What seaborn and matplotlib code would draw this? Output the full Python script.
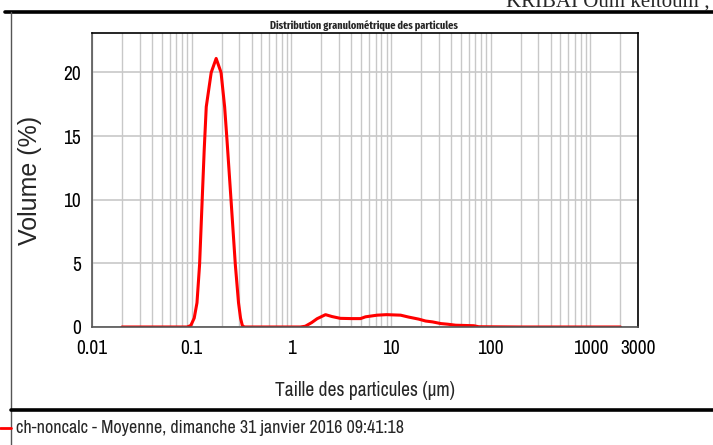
import matplotlib
matplotlib.use("Agg")
import matplotlib.pyplot as plt
import seaborn as sns
import pandas as pd
from matplotlib.lines import Line2D
from matplotlib.ticker import LogLocator, NullFormatter, FixedLocator

# ---- data ----
size_um = [0.02, 0.05, 0.09, 0.098, 0.106, 0.113, 0.120, 0.127, 0.1335, 0.140,
           0.157, 0.176, 0.197, 0.214, 0.226, 0.2495, 0.274, 0.295, 0.309,
           0.322, 0.337, 0.6, 1.0, 1.23, 1.38, 1.6, 1.81, 2.2, 2.56, 3.1,
           4.0, 4.94, 5.54, 7.26, 9.0, 12.46, 15.0, 18.9, 22.2, 26.1,
           31.5, 36.9, 44.5, 55.0, 67.5, 75.7, 200.0, 600.0, 2000.0]
volume_pct = [0.0, 0.0, 0.0, 0.12, 0.7, 1.9, 4.9, 9.7, 13.9, 17.3,
              20.0, 21.1, 20.0, 17.3, 14.7, 9.7, 4.9, 1.9, 0.7,
              0.12, 0.0, 0.0, 0.0, 0.0, 0.06, 0.35, 0.65, 0.97, 0.82, 0.68,
              0.66, 0.66, 0.8, 0.93, 0.97, 0.93, 0.78, 0.62, 0.47, 0.4,
              0.27, 0.22, 0.14, 0.12, 0.1, 0.02, 0.0, 0.0, 0.0]
xticks = [0.01, 0.1, 1, 10, 100, 1000, 3000]
xtick_labels = ["0.01", "0.1", "1", "10", "100", "1000", "3000"]
yticks = [0, 5, 10, 15, 20]
title = "Distribution granulométrique des particules"
xlabel = "Taille des particules (µm)"
ylabel = "Volume (%)"
series_name = "ch-noncalc - Moyenne, dimanche 31 janvier 2016 09:41:18"

df = pd.DataFrame({"size": size_um, "volume": volume_pct})

sns.set_theme(style="white")
NARROW = ["Archivo Narrow", "Liberation Sans", "DejaVu Sans"]
BOLDNARROW = ["Fira Sans Extra Condensed", "Archivo Narrow", "DejaVu Sans"]
plt.rcParams["font.family"] = NARROW

W, H = 713, 445
fig = plt.figure(figsize=(W / 100, H / 100), dpi=100)
fig.patch.set_facecolor("white")

ax = fig.add_axes([92 / W, (H - 327) / H, 546 / W, 294 / H])
sns.lineplot(data=df, x="size", y="volume", ax=ax, color="#ff0000",
             linewidth=2.2, legend=False)
ax.set_xscale("log")
ax.set_xlim(0.01, 3000)
ax.set_ylim(0, 23.1)

# grid
ax.xaxis.set_major_locator(FixedLocator(xticks))
ax.xaxis.set_minor_locator(LogLocator(base=10, subs=range(2, 10), numticks=20))
ax.xaxis.set_minor_formatter(NullFormatter())
ax.set_xticklabels(xtick_labels)
ax.set_yticks(yticks)
ax.grid(True, which="both", axis="x", color="#c8c8c8", linewidth=1.0)
ax.grid(True, which="major", axis="y", color="#c8c8c8", linewidth=1.2)
ax.set_axisbelow(True)
ax.tick_params(axis="both", which="both", length=0, labelsize=14,
               colors="black")
ax.tick_params(axis="y", pad=8)
ax.tick_params(axis="x", pad=9)

for s in ["top", "right"]:
    ax.spines[s].set_color("black")
    ax.spines[s].set_linewidth(1.2)
for s in ["bottom", "left"]:
    ax.spines[s].set_color("#555555")
    ax.spines[s].set_linewidth(1.2)

ax.set_xlabel("")
ax.set_ylabel("")

# axis titles
fig.text(365 / W, 1 - 391 / H, xlabel, ha="center", va="center",
         fontsize=14, family=NARROW)
fig.text(30 / W, 1 - 180 / H, ylabel, ha="center", va="center",
         rotation=90, fontsize=18, family=["Liberation Sans", "DejaVu Sans"])
fig.text(364 / W, 1 - 25 / H, title, ha="center", va="center",
         fontsize=8, fontweight="bold", family=BOLDNARROW)

# frame lines
fig.add_artist(Line2D([5 / W, 1], [1 - 12 / H, 1 - 12 / H],
                      transform=fig.transFigure, color="black", linewidth=2.6))
fig.add_artist(Line2D([11 / W, 11 / W], [1 - 12 / H, 0],
                      transform=fig.transFigure, color="#555555", linewidth=1.0))
fig.add_artist(Line2D([11 / W, 1], [1 - 410 / H, 1 - 410 / H],
                      transform=fig.transFigure, color="black", linewidth=2.6))

# legend row
fig.add_artist(Line2D([0, 11 / W], [1 - 428 / H, 1 - 428 / H],
                      transform=fig.transFigure, color="#ff0000", linewidth=2))
fig.text(16 / W, 1 - 428 / H, series_name, ha="left", va="center",
         fontsize=13, family=NARROW)

# clipped header text from the source document
fig.text(710 / W, 1 - 6 / H, "KRIBAI Oum keltoum ;", ha="right",
         va="baseline", fontsize=15,
         family=["Liberation Serif", "DejaVu Serif"])

fig.savefig("out.png", dpi=100, facecolor="white")
